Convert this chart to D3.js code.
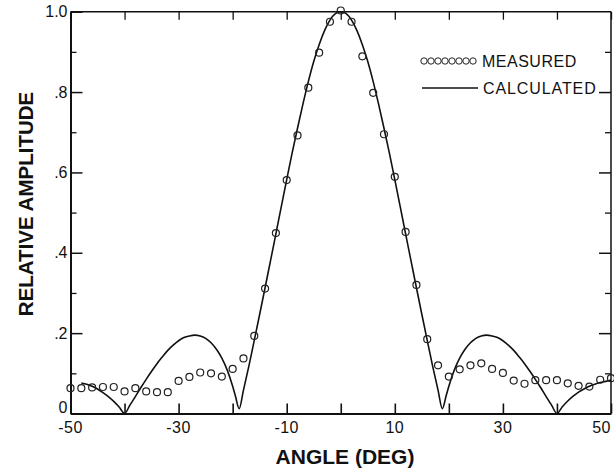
<!DOCTYPE html>
<html>
<head>
<meta charset="utf-8">
<script src="https://cdn.jsdelivr.net/npm/d3@7/dist/d3.min.js"></script>
<style>
  html, body { margin: 0; padding: 0; background: #fff; }
  svg { display: block; }
  text { font-family: "Liberation Sans", Arial, Helvetica, sans-serif; fill: #111; }
</style>
</head>
<body>
<svg id="chart" width="614" height="475"></svg>
<script>
// ---- data ----
const measuredAngle = [-50,-48,-46,-44,-42,-40,-38,-36,-34,-32,-30,-28,-26,-24,-22,-20,-18,-16,-14,-12,-10,-8,-6,-4,-2,0,2,4,6,8,10,12,14,16,18,20,22,24,26,28,30,32,34,36,38,40,42,44,46,48,50];
const measuredValue = [0.063,0.063,0.065,0.066,0.066,0.055,0.063,0.055,0.053,0.053,0.081,0.091,0.102,0.100,0.092,0.111,0.137,0.193,0.311,0.449,0.581,0.692,0.811,0.898,0.975,1.003,0.975,0.889,0.798,0.695,0.589,0.452,0.320,0.185,0.120,0.092,0.110,0.120,0.125,0.111,0.101,0.082,0.074,0.083,0.083,0.083,0.075,0.069,0.067,0.084,0.088];

const calcAngle = [-48,-47,-46,-45,-44,-43,-42,-41,-40,-39,-38,-37,-36,-35,-34,-33,-32,-31,-30,-29,-28,-27,-26,-25,-24,-23,-22,-21,-20,-19.5,-18.8,-18,-17,-16,-15,-14,-13,-12,-11,-10,-9,-8,-7,-6,-5,-4,-3,-2,-1,0,1,2,3,4,5,6,7,8,9,10,11,12,13,14,15,16,17,18,18.8,19.5,20,21,22,23,24,25,26,27,28,29,30,31,32,33,34,35,36,37,38,39,40,41,42,43,44,45,46,47,48,49,50];
const calcValue = [0.076,0.073,0.068,0.061,0.052,0.042,0.030,0.016,0.000,0.021,0.042,0.064,0.085,0.105,0.124,0.141,0.157,0.170,0.181,0.189,0.193,0.195,0.193,0.187,0.176,0.160,0.138,0.108,0.068,0.044,0.012,0.058,0.118,0.182,0.247,0.313,0.380,0.447,0.515,0.582,0.648,0.710,0.770,0.826,0.876,0.918,0.953,0.979,0.995,1.000,0.995,0.979,0.953,0.918,0.876,0.826,0.770,0.710,0.648,0.582,0.515,0.447,0.380,0.313,0.247,0.182,0.118,0.058,0.012,0.044,0.068,0.108,0.138,0.160,0.176,0.187,0.193,0.195,0.193,0.189,0.181,0.170,0.157,0.141,0.124,0.105,0.085,0.064,0.042,0.021,0.000,0.017,0.031,0.043,0.053,0.061,0.068,0.073,0.077,0.080,0.083];

const xTickValues = [-50,-40,-30,-20,-10,0,10,20,30,40,50];
const xLabelValues = [-50,-30,-10,10,30,50];
const xLabelTexts = ["-50","-30","-10","10","30","50"];
const yMajorValues = [0,0.2,0.4,0.6,0.8,1.0];
const yLabelTexts = ["0",".2",".4",".6",".8","1.0"];
const yMinorValues = [0.1,0.3,0.5,0.7,0.9];
const legendLabels = ["MEASURED","CALCULATED"];
const xTitle = "ANGLE (DEG)";
const yTitle = "RELATIVE AMPLITUDE";

// ---- layout ----
const svg = d3.select("#chart");
const pLeft = 70.5, pRight = 611, pTop = 11.7, pBottom = 413.5;
const x = d3.scaleLinear().domain([-50,50]).range([pLeft,pRight]);
const y = d3.scaleLinear().domain([0,1]).range([pBottom,pTop]);
const ink = "#111";

// frame: top & right (thinner)
svg.append("line").attr("x1",pLeft).attr("x2",pRight).attr("y1",pTop).attr("y2",pTop)
  .attr("stroke",ink).attr("stroke-width",1.5);
svg.append("line").attr("x1",pRight).attr("x2",pRight).attr("y1",pTop).attr("y2",pBottom)
  .attr("stroke",ink).attr("stroke-width",1.5);

// bottom axis (ticks inward)
const xAxisB = d3.axisBottom(x).tickValues(xTickValues).tickSizeInner(-10).tickSizeOuter(0).tickFormat("");
const gB = svg.append("g").attr("transform",`translate(0,${pBottom})`).call(xAxisB);
gB.select(".domain").attr("stroke",ink).attr("stroke-width",2);
gB.selectAll(".tick line").attr("stroke",ink).attr("stroke-width",1.6);

// top axis ticks
const xAxisT = d3.axisTop(x).tickValues(xTickValues).tickSizeInner(-8).tickSizeOuter(0).tickFormat("");
const gT = svg.append("g").attr("transform",`translate(0,${pTop})`).call(xAxisT);
gT.select(".domain").remove();
gT.selectAll(".tick line").attr("stroke",ink).attr("stroke-width",1.3);

// x tick labels (last one kept inside the page)
svg.append("g").selectAll("text").data(xLabelValues).join("text")
  .attr("x",d=>Math.min(x(d), 613)).attr("y",pBottom+19.5)
  .attr("text-anchor",d=>x(d) > 600 ? "end" : "middle")
  .attr("font-size",16).attr("letter-spacing",0.5)
  .text((d,i)=>xLabelTexts[i]);

// left axis
const yAxisL = d3.axisLeft(y).tickValues(yMajorValues).tickSizeInner(-12).tickSizeOuter(0).tickFormat("");
const gL = svg.append("g").attr("transform",`translate(${pLeft},0)`).call(yAxisL);
gL.select(".domain").attr("stroke",ink).attr("stroke-width",2);
gL.selectAll(".tick line").attr("stroke",ink).attr("stroke-width",1.5);
const yAxisLm = d3.axisLeft(y).tickValues(yMinorValues).tickSizeInner(-6).tickSizeOuter(0).tickFormat("");
const gLm = svg.append("g").attr("transform",`translate(${pLeft},0)`).call(yAxisLm);
gLm.select(".domain").remove();
gLm.selectAll(".tick line").attr("stroke",ink).attr("stroke-width",1.3);

// right axis ticks
const yAxisR = d3.axisRight(y).tickValues(yMajorValues.slice(1,5)).tickSizeInner(-12).tickSizeOuter(0).tickFormat("");
const gR = svg.append("g").attr("transform",`translate(${pRight},0)`).call(yAxisR);
gR.select(".domain").remove();
gR.selectAll(".tick line").attr("stroke",ink).attr("stroke-width",1.5);
const yAxisRm = d3.axisRight(y).tickValues(yMinorValues).tickSizeInner(-6).tickSizeOuter(0).tickFormat("");
const gRm = svg.append("g").attr("transform",`translate(${pRight},0)`).call(yAxisRm);
gRm.select(".domain").remove();
gRm.selectAll(".tick line").attr("stroke",ink).attr("stroke-width",1.3);

// y tick labels
svg.append("g").selectAll("text").data(yMajorValues).join("text")
  .attr("x",pLeft-3).attr("y",d=>Math.min(y(d)+5.5, pBottom-1))
  .attr("text-anchor","end").attr("font-size",16)
  .text((d,i)=>yLabelTexts[i]);

// titles
svg.append("text").attr("x",345).attr("y",464)
  .attr("text-anchor","middle").attr("font-size",21).attr("font-weight","bold")
  .text(xTitle);
svg.append("text").attr("transform","translate(33,204) rotate(-90)")
  .attr("text-anchor","middle").attr("font-size",20.5).attr("font-weight","bold")
  .text(yTitle);

// calculated line
const calcData = calcAngle.map((a,i)=>[a,calcValue[i]]);
svg.append("path").datum(calcData)
  .attr("fill","none").attr("stroke",ink).attr("stroke-width",1.6)
  .attr("d", d3.line().x(d=>x(d[0])).y(d=>y(d[1])).curve(d3.curveMonotoneX));

// measured circles
const measData = measuredAngle.map((a,i)=>[a,measuredValue[i]]);
svg.append("g").selectAll("circle").data(measData).join("circle")
  .attr("cx",d=>x(d[0])).attr("cy",d=>y(d[1])).attr("r",3.5)
  .attr("fill","none").attr("stroke","#222").attr("stroke-width",1.2);

// legend
const legCircleX = d3.range(8).map(i=>424+i*7);
svg.append("g").selectAll("circle").data(legCircleX).join("circle")
  .attr("cx",d=>d).attr("cy",61).attr("r",3.2)
  .attr("fill","none").attr("stroke","#222").attr("stroke-width",1);
svg.append("text").attr("x",482).attr("y",67).attr("font-size",16).attr("letter-spacing",0.5).text(legendLabels[0]);
svg.append("line").attr("x1",422).attr("x2",478).attr("y1",88).attr("y2",88)
  .attr("stroke",ink).attr("stroke-width",1.5);
svg.append("text").attr("x",483).attr("y",94).attr("font-size",16).attr("letter-spacing",0.9).text(legendLabels[1]);
</script>
</body>
</html>
